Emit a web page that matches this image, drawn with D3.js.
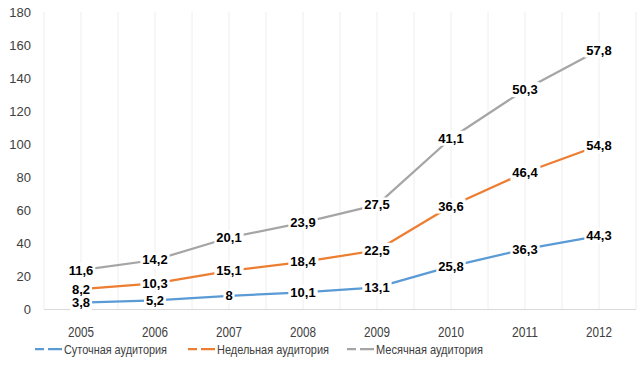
<!DOCTYPE html>
<html><head><meta charset="utf-8">
<script src="https://cdn.jsdelivr.net/npm/d3@7"></script>
<style>body{margin:0;background:#fff}svg{display:block}text{font-family:"Liberation Sans",Arial,sans-serif}</style>
</head><body><svg id="c" width="644" height="377"></svg>
<script>
const years = ["2005","2006","2007","2008","2009","2010","2011","2012"];
const seriesNames = ["Суточная аудитория","Недельная аудитория","Месячная аудитория"];
const daily   = [3.8, 5.2, 8, 10.1, 13.1, 25.8, 36.3, 44.3];
const weekly  = [8.2, 10.3, 15.1, 18.4, 22.5, 36.6, 46.4, 54.8];
const monthly = [11.6, 14.2, 20.1, 23.9, 27.5, 41.1, 50.3, 57.8];
const yTicks = [0,20,40,60,80,100,120,140,160,180];
const colors = ["#5B9BD5","#ED7D31","#A5A5A5"];

const svg = d3.select("#c");
const x = d3.scaleBand().domain(years).range([44,636]);
const y = d3.scaleLinear().domain([0,180]).range([309,12]);

const rows = years.map((yr,i)=>({year:yr, s0:daily[i], s1:weekly[i], s2:monthly[i]}));
const stack = d3.stack().keys(["s0","s1","s2"]);
const stacked = stack(rows);
const vals = [daily, weekly, monthly];

// gridlines (vertical, every half category)
const grid = [];
years.forEach(yr=>{grid.push(x(yr)); grid.push(x(yr)+x.bandwidth()/2);});
grid.push(636);
svg.append("g").selectAll("line").data(grid).join("line")
  .attr("x1",d=>d).attr("x2",d=>d).attr("y1",y(180)).attr("y2",y(0))
  .attr("stroke","#eeeeee").attr("stroke-width",1);

// x axis
svg.append("line").attr("x1",44).attr("x2",636).attr("y1",y(0)+0.5).attr("y2",y(0)+0.5)
  .attr("stroke","#d9d9d9");
const xa = d3.axisBottom(x).tickSize(0).tickPadding(0);
const gx = svg.append("g").attr("transform",`translate(0,${y(0)})`).call(xa);
gx.select(".domain").remove();
gx.selectAll("text").attr("font-size",14).attr("fill","#404040").attr("dy","0").attr("y",28)
  .attr("textLength",26).attr("lengthAdjust","spacingAndGlyphs");

// y axis
const ya = d3.axisLeft(y).tickValues(yTicks).tickSize(0).tickPadding(0);
const gy = svg.append("g").attr("transform","translate(31,0)").call(ya);
gy.select(".domain").remove();
gy.selectAll("text").attr("font-size",13).attr("fill","#404040");

// lines
const line = d3.line().x((d,i)=>x(years[i])+x.bandwidth()/2).y(d=>y(d[1]));
stacked.forEach((s,k)=>{
  svg.append("path").datum(s).attr("d",line).attr("fill","none")
    .attr("stroke",colors[k]).attr("stroke-width",2.25).attr("stroke-linejoin","round");
});

// labels
stacked.forEach((s,k)=>{
  const g = svg.append("g");
  s.forEach((d,i)=>{
    const cx = x(years[i])+x.bandwidth()/2, cy = y(d[1]);
    const t = String(vals[k][i]).replace(".",",");
    const tx = g.append("text").attr("x",cx).attr("y",cy+4.5).attr("text-anchor","middle")
      .attr("font-size",13).attr("font-weight","bold").attr("fill","#000").text(t);
    const bb = tx.node().getBBox();
    g.insert("rect","text").attr("x",bb.x-2).attr("y",bb.y).attr("width",bb.width+4).attr("height",bb.height).attr("fill","#fff");
  });
});

// legend
const lx = [35,188,347];
const lw = [103,112,107];
seriesNames.forEach((n,k)=>{
  const g = svg.append("g").attr("transform",`translate(${lx[k]},349)`);
  g.append("line").attr("x1",0).attr("x2",27).attr("y1",0).attr("y2",0)
    .attr("stroke",colors[k]).attr("stroke-width",2.25).attr("stroke-dasharray","9,4,14");
  g.append("text").attr("x",29).attr("y",4.5).attr("font-size",13).attr("fill","#404040")
    .attr("textLength",lw[k]).attr("lengthAdjust","spacingAndGlyphs").text(n);
});
</script></body></html>
